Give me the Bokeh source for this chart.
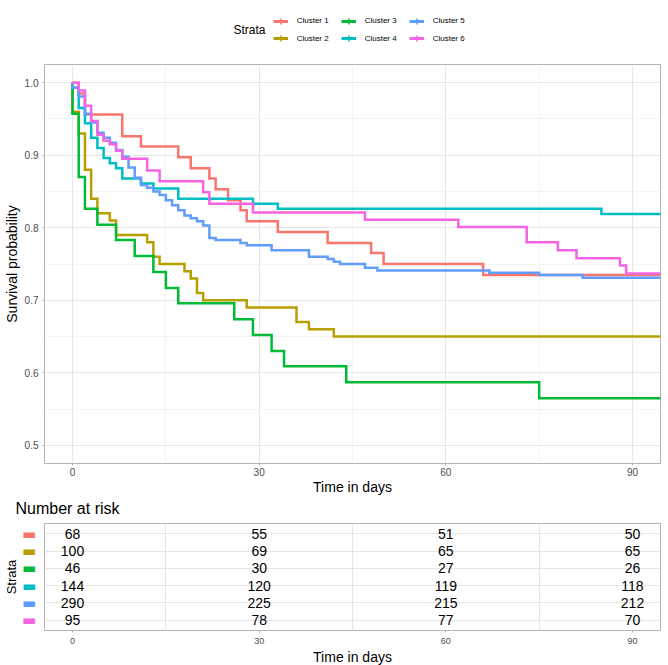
from math import pi
from bokeh.plotting import figure
from bokeh.models import (Range1d, FixedTicker, NumeralTickFormatter, Legend, LegendItem,
                          Label, ColumnDataSource, Grid)
from bokeh.layouts import column, row
from bokeh.embed import file_html
from bokeh.resources import INLINE
from bokeh.core.properties import value

# ---------------- data ----------------
strata = ["Cluster 1", "Cluster 2", "Cluster 3", "Cluster 4", "Cluster 5", "Cluster 6"]
colors = ["#F8766D", "#B79F00", "#00BA38", "#00BFC4", "#619CFF", "#F564E3"]

c1_time = [0, 1, 2, 8, 11, 17, 19, 22, 23, 25, 27, 28, 33, 41, 48, 50, 66]
c1_surv = [1.0, 0.985, 0.956, 0.926, 0.912, 0.897, 0.882, 0.868, 0.853, 0.838, 0.824, 0.809,
           0.794, 0.779, 0.765, 0.750, 0.735]

c2_time = [0, 0, 1, 2, 3, 4, 6, 7, 12, 13, 14, 18, 19, 20, 21, 28, 36, 38, 42]
c2_surv = [1.0, 0.96, 0.93, 0.88, 0.84, 0.82, 0.81, 0.79, 0.78, 0.76, 0.75, 0.74, 0.73, 0.71,
           0.70, 0.69, 0.67, 0.66, 0.65]

c3_time = [0, 0, 1, 2, 4, 7, 10, 13, 15, 17, 26, 29, 32, 34, 44, 75]
c3_surv = [1.0, 0.957, 0.870, 0.826, 0.804, 0.783, 0.761, 0.739, 0.717, 0.696, 0.674, 0.652,
           0.630, 0.609, 0.587, 0.565]

c4_time = [0, 0, 1, 2, 3, 4, 5, 6, 7, 8, 11, 13, 17, 29, 33, 85]
c4_surv = [1.0, 0.993, 0.965, 0.944, 0.924, 0.910, 0.896, 0.889, 0.882, 0.868, 0.861, 0.854,
           0.840, 0.833, 0.826, 0.819]

c5_time = [0, 0, 1, 2, 3, 4, 5, 6, 7, 8, 9, 10, 11, 12, 13, 14, 15, 16, 17, 18, 19, 20, 21, 22,
           23, 27, 28, 32, 38, 41, 42, 43, 47, 49, 67, 75, 82]
c5_surv = [1.0, 0.993, 0.981, 0.957, 0.945, 0.931, 0.924, 0.917, 0.907, 0.898, 0.883, 0.869,
           0.859, 0.855, 0.850, 0.845, 0.838, 0.831, 0.824, 0.817, 0.813, 0.809, 0.803, 0.786,
           0.783, 0.779, 0.776, 0.769, 0.760, 0.757, 0.753, 0.750, 0.745, 0.741, 0.738, 0.735,
           0.731]

c6_time = [0, 1, 2, 3, 4, 5, 6, 7, 8, 12, 14, 21, 22, 29, 47, 62, 73, 78, 81, 88, 89]
c6_surv = [1.0, 0.989, 0.968, 0.947, 0.928, 0.920, 0.915, 0.906, 0.895, 0.879, 0.864, 0.849,
           0.833, 0.821, 0.811, 0.801, 0.780, 0.769, 0.758, 0.748, 0.737]

follow_up_end = 95

risk_times = [0, 30, 60, 90]
risk_c1 = [68, 55, 51, 50]
risk_c2 = [100, 69, 65, 65]
risk_c3 = [46, 30, 27, 26]
risk_c4 = [144, 120, 119, 118]
risk_c5 = [290, 225, 215, 212]
risk_c6 = [95, 78, 77, 70]

x_ticks = [0, 30, 60, 90]
y_ticks = [0.5, 0.6, 0.7, 0.8, 0.9, 1.0]

times = [c1_time, c2_time, c3_time, c4_time, c5_time, c6_time]
survs = [c1_surv, c2_surv, c3_surv, c4_surv, c5_surv, c6_surv]
risks = [risk_c1, risk_c2, risk_c3, risk_c4, risk_c5, risk_c6]

FONT = "Liberation Sans"
GRID_MAJOR = "#E6E6E6"
GRID_MINOR = "#F3F3F3"
BORDER = "#B3B3B3"
TICK_TXT = "#4D4D4D"

x_minor = [(a + b) / 2 for a, b in zip(x_ticks[:-1], x_ticks[1:])]
y_minor = [(a + b) / 2 for a, b in zip(y_ticks[:-1], y_ticks[1:])]
XR = (-4.5, 94.5)
FW = 616
TOTAL_W = 668


def borders(l=0, r=0, t=0, b=0):
    return dict(min_border_left=l, min_border_right=r, min_border_top=t, min_border_bottom=b)


def style_xaxis(fig, tick_size, label_standoff, title_standoff):
    ax = fig.xaxis[0]
    ax.ticker = FixedTicker(ticks=x_ticks, minor_ticks=x_minor)
    ax.axis_line_color = None
    ax.major_tick_line_color = BORDER
    ax.major_tick_out = 2
    ax.major_tick_in = 0
    ax.minor_tick_line_color = None
    ax.major_label_standoff = label_standoff
    ax.major_label_text_font = FONT
    ax.major_label_text_font_size = tick_size
    ax.major_label_text_color = TICK_TXT
    ax.axis_label = "Time in days"
    ax.axis_label_standoff = title_standoff
    ax.axis_label_text_font = FONT
    ax.axis_label_text_font_size = "14px"
    ax.axis_label_text_font_style = "normal"
    ax.axis_label_text_color = "black"


# ---------------- legend strip ----------------
leg = figure(frame_width=TOTAL_W, frame_height=56, x_range=Range1d(-1000, -999),
             y_range=Range1d(0, 1), output_backend="svg", toolbar_location=None,
             x_axis_location=None, y_axis_location=None, **borders())
leg.outline_line_color = None
leg.grid.visible = False
items = []
for name, c, t, s in zip(strata, colors, times, survs):
    lr = leg.line(x=t, y=s, line_color=c, line_width=3)
    cr = leg.scatter(x=t[:1], y=s[:1], marker="cross", size=8, line_color=c, line_width=1.5)
    items.append(LegendItem(label=name, renderers=[lr, cr]))

for row_items, ypos in ((items[0::2], 26.3), (items[1::2], 8.7)):
    lg = Legend(items=row_items, orientation="horizontal", location=(272.7, ypos),
                border_line_color=None, background_fill_alpha=0, padding=0, margin=0,
                spacing=0, label_standoff=9, glyph_width=15, glyph_height=18,
                label_width=44, label_height=18, label_text_font=FONT,
                label_text_font_size="8px", label_text_color="black")
    leg.add_layout(lg)
leg.add_layout(Label(x=249, y=27, x_units="screen", y_units="screen", text="Strata",
                     text_font=FONT, text_font_size="12px", text_align="center",
                     text_baseline="middle", text_color="black"))

# ---------------- survival curves ----------------
p = figure(frame_width=FW, frame_height=399, x_range=Range1d(*XR),
           y_range=Range1d(0.475, 1.025), output_backend="svg", toolbar_location=None,
           **borders(l=44, r=8, t=8, b=33))
p.outline_line_color = BORDER
for t, s, c in zip(times, survs, colors):
    p.step(x=t + [follow_up_end], y=s + [s[-1]], mode="after", line_color=c,
           line_width=2.5, line_join="miter")

style_xaxis(p, "10px", 0, 0)
ya = p.yaxis[0]
ya.ticker = FixedTicker(ticks=y_ticks, minor_ticks=y_minor)
ya.formatter = NumeralTickFormatter(format="0.0")
ya.axis_line_color = None
ya.major_tick_line_color = BORDER
ya.major_tick_out = 2
ya.major_tick_in = 0
ya.minor_tick_line_color = None
ya.major_label_standoff = 2
ya.major_label_text_font = FONT
ya.major_label_text_font_size = "10px"
ya.major_label_text_color = TICK_TXT
ya.axis_label = "Survival probability"
ya.axis_label_standoff = 2
ya.axis_label_text_font = FONT
ya.axis_label_text_font_size = "14px"
ya.axis_label_text_font_style = "normal"
ya.axis_label_text_color = "black"
for g in (p.xgrid[0], p.ygrid[0]):
    g.grid_line_color = GRID_MAJOR
    g.minor_grid_line_color = GRID_MINOR

# ---------------- risk table header ----------------
hdr = figure(frame_width=TOTAL_W, frame_height=26, x_range=Range1d(0, 1),
             y_range=Range1d(0, 1), output_backend="svg", toolbar_location=None,
             x_axis_location=None, y_axis_location=None, **borders())
hdr.outline_line_color = None
hdr.grid.visible = False
hdr.add_layout(Label(x=15, y=15, x_units="screen", y_units="screen", text="Number at risk",
                     text_font=FONT, text_font_size="16px", text_align="left",
                     text_baseline="middle", text_color="black"))

# ---------------- risk table ----------------
n_rows = len(strata)
row_pos = [n_rows - i for i in range(n_rows)]
yr = Range1d(0.4, n_rows + 0.6)
p2 = figure(frame_width=FW, frame_height=107, x_range=Range1d(*XR), y_range=yr,
            output_backend="svg", toolbar_location=None, y_axis_location=None,
            **borders(r=8, b=34))
p2.outline_line_color = BORDER
style_xaxis(p2, "9px", 3, 2)
p2.xgrid[0].ticker = FixedTicker(ticks=x_minor)
p2.xgrid[0].grid_line_color = GRID_MAJOR
p2.add_layout(Grid(dimension=1, ticker=FixedTicker(ticks=row_pos), grid_line_color=GRID_MAJOR))

tx, ty, tt = [], [], []
for r, yv in zip(risks, row_pos):
    for xt, n in zip(risk_times, r):
        tx.append(xt)
        ty.append(yv)
        tt.append(str(n))
src = ColumnDataSource(data=dict(x=tx, y=ty, label=tt))
p2.text(x="x", y="y", text="label", source=src, text_align="center",
        text_baseline="middle", text_font=value(FONT), text_font_size="14px",
        text_color="black")

side = figure(frame_width=44, frame_height=107, x_range=Range1d(0, 1), y_range=yr,
              output_backend="svg", toolbar_location=None, x_axis_location=None,
              y_axis_location=None, **borders(b=34))
side.outline_line_color = None
side.grid.visible = False
for c, yv in zip(colors, row_pos):
    side.add_layout(Label(x=28.5, x_units="screen", y=yv, y_units="data", text="\u25AC",
                          text_font="DejaVu Sans", text_font_size="15px", text_color=c,
                          text_align="center", text_baseline="middle"))
side.add_layout(Label(x=11, x_units="screen", y=(n_rows + 1) / 2, y_units="data",
                      text="Strata", angle=pi / 2, text_font=FONT, text_font_size="13px",
                      text_align="center", text_baseline="middle", text_color="black"))

layout = column(row(leg), p, row(hdr), row(side, p2, spacing=0), spacing=0)
open("out.html", "w").write(file_html(layout, INLINE))
